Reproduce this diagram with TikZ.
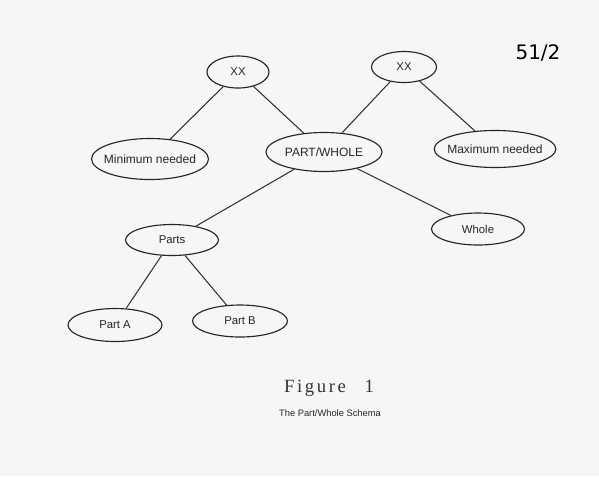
\documentclass[tikz,border=0pt]{standalone}
\usepackage{fontspec}
\setmainfont{Liberation Sans}
\newfontfamily\figfont[LetterSpace=14]{Liberation Serif}
\newfontfamily\handfont{DejaVu Sans}
\usepackage{tikz}
\usetikzlibrary{shapes.geometric}

\definecolor{paper}{RGB}{246,246,245}

\tikzset{
  oval/.style={draw=black!85, line width=0.85pt, ellipse, inner sep=0pt,
    font=\fontsize{8.5}{10}\selectfont, text=black!85},
  wideoval/.style={oval, inner xsep=-3.5pt, font=\fontsize{9}{10}\selectfont},
  link/.style={draw=black!80, line width=0.8pt}
}

\begin{document}
\begin{tikzpicture}[x=0.75pt,y=-0.75pt]
\fill[paper] (0,0) rectangle (599,476);
\useasboundingbox (0,0) rectangle (599,476);
% Nodes
\node[oval, minimum width=62*0.75pt, minimum height=32*0.75pt] (xxl) at (238,72) {XX};
\node[oval, minimum width=65*0.75pt, minimum height=31*0.75pt] (xxr) at (404,67) {XX};
\node[wideoval, minimum width=115*0.75pt, minimum height=41*0.75pt] (minn) at (150,159) {Minimum needed};
\node[wideoval, minimum width=115*0.75pt, minimum height=37*0.75pt] (maxn) at (495,149) {Maximum needed};
\node[oval, minimum width=116*0.75pt, minimum height=39*0.75pt,
  font=\fontsize{9}{10}\selectfont] (pw) at (324,152) {PART/WHOLE};
\node[oval, minimum width=93*0.75pt, minimum height=31*0.75pt] (parts) at (172,240) {Parts};
\node[oval, minimum width=93*0.75pt, minimum height=32*0.75pt] (whole) at (478,229) {Whole};
\node[oval, minimum width=94*0.75pt, minimum height=33*0.75pt] (pa) at (115,325) {Part A};
\node[oval, minimum width=95*0.75pt, minimum height=32*0.75pt] (pb) at (240,321) {Part B};
% Links
\draw[link] (xxl) -- (minn);
\draw[link] (xxl) -- (pw);
\draw[link] (xxr) -- (pw);
\draw[link] (xxr) -- (maxn);
\draw[link] (pw) -- (parts);
\draw[link] (pw) -- (whole);
\draw[link] (parts) -- (pa);
\draw[link] (parts) -- (pb);
% Caption
\node[text=black!80, font=\figfont\fontsize{14}{16}\selectfont] (fig) at (329,388) {Figure\hspace{14pt}1};
\node[text=black!85, font=\fontsize{7}{8}\selectfont] (cap) at (330,413) {The Part/Whole Schema};
\node[text=black, font=\handfont\fontsize{15}{16}\selectfont] (num) at (538,53) {51/2};
\end{tikzpicture}
\end{document}
